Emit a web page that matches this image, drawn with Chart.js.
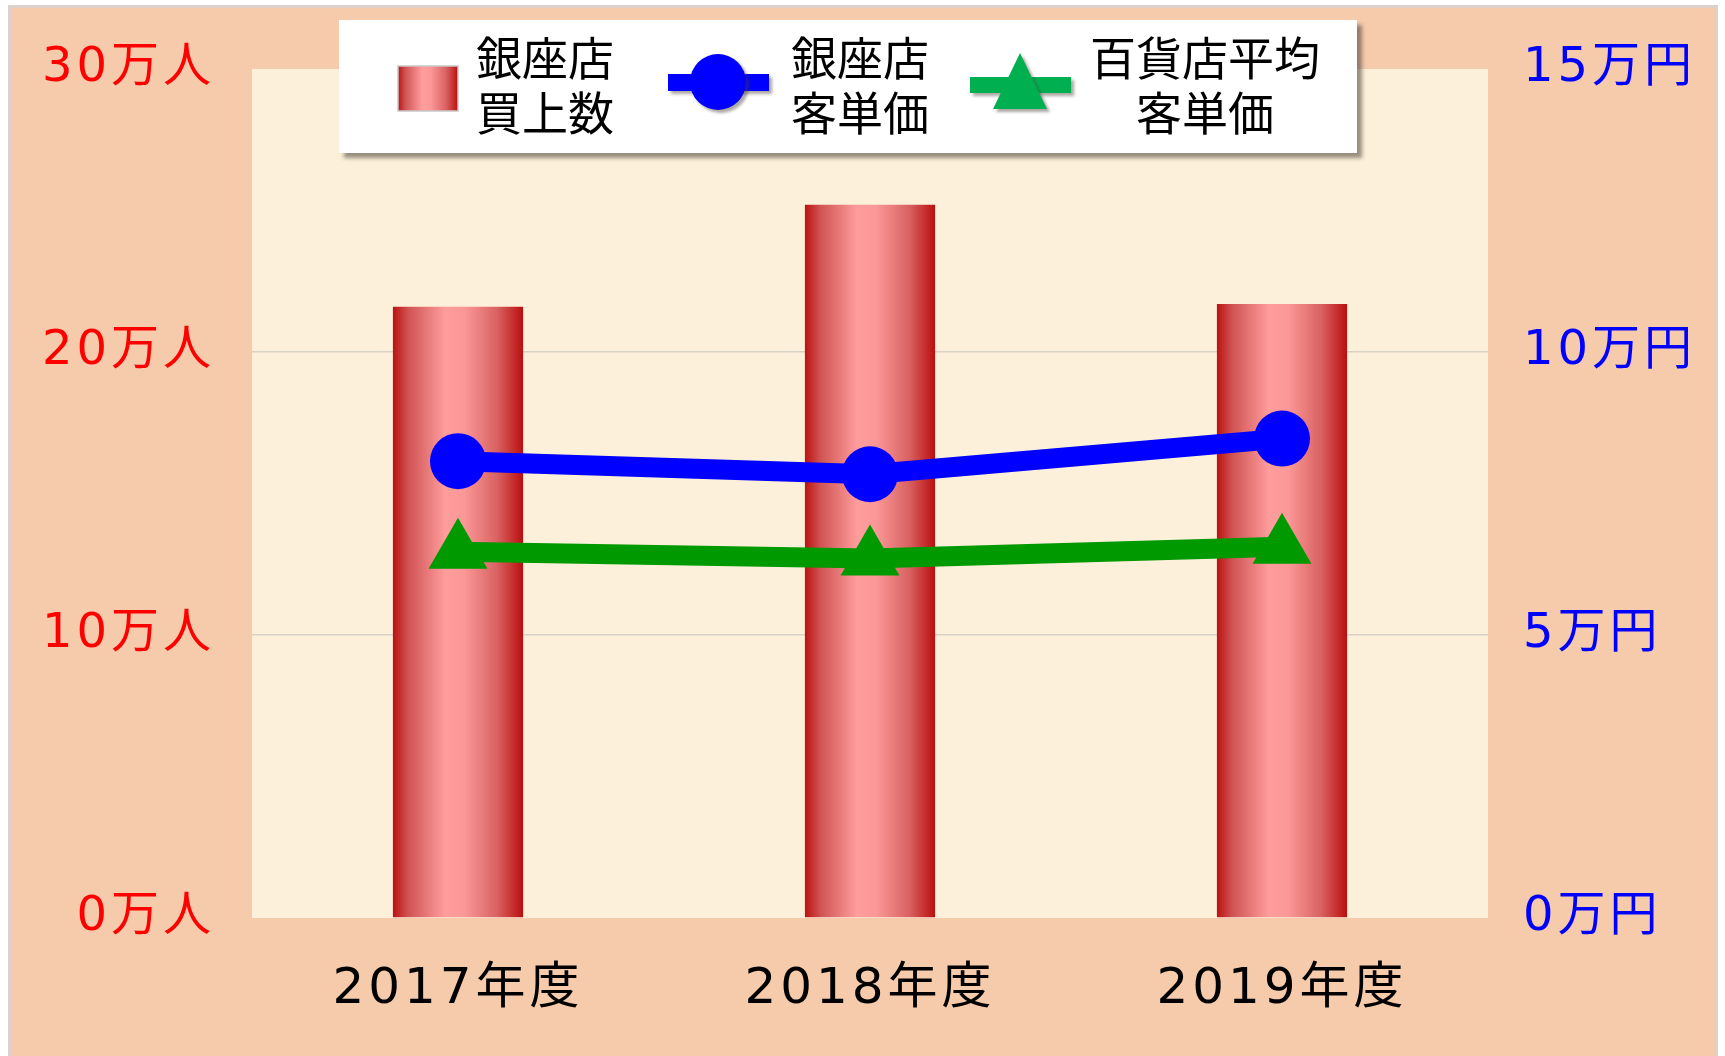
<!DOCTYPE html>
<html lang="ja">
<head>
<meta charset="utf-8">
<script src="https://cdn.jsdelivr.net/npm/chart.js@4/dist/chart.umd.min.js"></script>
<style>
  html, body { margin: 0; padding: 0; background: #fff; }
</style>
</head>
<body>
<canvas id="chart" width="1725" height="1056"></canvas>
<script>
// data (万人 / 万円)
const years = ['2017年度', '2018年度', '2019年度'];
const ginzaCustomers = [21.6, 25.2, 21.7];
const ginzaSpend = [8.07, 7.84, 8.47];
const deptAvgSpend = [6.47, 6.35, 6.56];
const leftTicks = [0, 10, 20, 30];
const rightTicks = [0, 5, 10, 15];
const legendLabels = [['銀座店', '買上数'], ['銀座店', '客単価'], ['百貨店平均', '客単価']];

const tickFont = "'DejaVu Sans', 'Noto Sans CJK JP', sans-serif";
const jpFont = "'Noto Sans CJK JP', sans-serif";
const barPct = 0.316;

function barGradient(ctx, x0, x1) {
    const g = ctx.createLinearGradient(x0, 0, x1, 0);
    g.addColorStop(0, '#BC1212');
    g.addColorStop(0.12, '#D05454');
    g.addColorStop(0.4, '#FF9C9C');
    g.addColorStop(0.55, '#FB9797');
    g.addColorStop(0.8, '#D96262');
    g.addColorStop(1, '#BA0F0F');
    return g;
}

// peach frame + cream plot area; wider spacing for the axis labels
const backdrop = {
    id: 'backdrop',
    beforeDraw(chart) {
        const ctx = chart.ctx;
        const a = chart.chartArea;
        ctx.save();
        ctx.fillStyle = '#fff';
        ctx.fillRect(0, 0, chart.width, chart.height);
        ctx.fillStyle = '#DCD2CB';
        ctx.fillRect(8, 5, 1710, chart.height);
        ctx.fillStyle = '#F6CBAC';
        ctx.fillRect(11, 8, 1704, chart.height);
        ctx.fillStyle = '#FCF0DA';
        ctx.fillRect(a.left, a.top, a.right - a.left, a.bottom - a.top);
        ctx.restore();
        ctx.letterSpacing = '4px';
    },
    beforeDatasetsDraw(chart) {
        chart.ctx.letterSpacing = '0px';
    }
};

// boxed legend with two-line labels
const boxLegend = {
    id: 'boxLegend',
    afterDraw(chart) {
        const ctx = chart.ctx;
        const ds = chart.data.datasets;
        ctx.letterSpacing = '0px';
        ctx.save();
        ctx.shadowColor = 'rgba(70,60,50,0.55)';
        ctx.shadowOffsetX = 5;
        ctx.shadowOffsetY = 5;
        ctx.shadowBlur = 4;
        ctx.fillStyle = '#fff';
        ctx.fillRect(339, 20, 1018, 133);
        ctx.restore();

        ctx.save();
        // bar symbol
        ctx.fillStyle = barGradient(ctx, 398, 458);
        ctx.fillRect(398, 66, 60, 45);
        ctx.strokeStyle = '#C8C8C8';
        ctx.lineWidth = 1.5;
        ctx.strokeRect(398, 66, 60, 45);

        ctx.shadowColor = 'rgba(70,60,50,0.45)';
        ctx.shadowOffsetX = 3;
        ctx.shadowOffsetY = 3;
        ctx.shadowBlur = 3;
        // blue line + circle
        ctx.fillStyle = ds[1].borderColor;
        ctx.fillRect(668, 74, 101, 17);
        ctx.beginPath();
        ctx.arc(718, 82, 28, 0, Math.PI * 2);
        ctx.fill();
        // green line + triangle
        ctx.fillStyle = '#00B050';
        ctx.fillRect(970, 77, 101, 16);
        ctx.beginPath();
        ctx.moveTo(1020, 53);
        ctx.lineTo(1047, 109);
        ctx.lineTo(993, 109);
        ctx.closePath();
        ctx.fill();
        ctx.restore();

        ctx.save();
        ctx.fillStyle = '#000';
        ctx.font = '46px ' + jpFont;
        ctx.textAlign = 'center';
        ctx.textBaseline = 'middle';
        const cx = [545, 860, 1205];
        legendLabels.forEach((lines, i) => {
            ctx.fillText(lines[0], cx[i], 58);
            ctx.fillText(lines[1], cx[i], 113);
        });
        ctx.restore();
    }
};

new Chart(document.getElementById('chart').getContext('2d'), {
    type: 'bar',
    data: {
        labels: years,
        datasets: [
            {
                label: legendLabels[0].join(''),
                data: ginzaCustomers,
                yAxisID: 'y',
                order: 10,
                borderWidth: 0,
                categoryPercentage: 1,
                barPercentage: barPct,
                backgroundColor: function(c) {
                    const xs = c.chart.scales.x;
                    if (!xs || c.dataIndex === undefined) return '#E06060';
                    const cx = xs.getPixelForValue(c.dataIndex);
                    const half = xs.width / years.length * barPct / 2;
                    if (!isFinite(cx) || !isFinite(half)) return '#E06060';
                    return barGradient(c.chart.ctx, cx - half, cx + half);
                }
            },
            {
                type: 'line',
                label: legendLabels[1].join(''),
                data: ginzaSpend,
                yAxisID: 'y1',
                order: 1,
                borderColor: '#0000FF',
                backgroundColor: '#0000FF',
                borderWidth: 20,
                pointStyle: 'circle',
                pointRadius: 28,
                pointHoverRadius: 28,
                pointBorderWidth: 0,
                pointBackgroundColor: '#0000FF',
                tension: 0,
                fill: false
            },
            {
                type: 'line',
                label: legendLabels[2].join(''),
                data: deptAvgSpend,
                yAxisID: 'y1',
                order: 2,
                borderColor: '#009900',
                backgroundColor: '#009900',
                borderWidth: 20,
                pointStyle: 'triangle',
                pointRadius: 34,
                pointHoverRadius: 34,
                pointBorderWidth: 0,
                pointBackgroundColor: '#009900',
                tension: 0,
                fill: false
            }
        ]
    },
    options: {
        responsive: false,
        animation: false,
        events: [],
        layout: { padding: { left: 10, top: 69, right: 0, bottom: 0 } },
        plugins: {
            legend: { display: false },
            tooltip: { enabled: false }
        },
        scales: {
            x: {
                grid: { display: false },
                border: { display: false },
                ticks: { color: '#000', font: { family: tickFont, size: 50 }, padding: 34 },
                afterFit: s => { s.height = 1056 - 918; }
            },
            y: {
                position: 'left',
                min: 0,
                max: 30,
                afterBuildTicks: s => { s.ticks = leftTicks.map(v => ({ value: v })); },
                ticks: {
                    color: '#FF0000',
                    font: { family: tickFont, size: 48 },
                    padding: 37,
                    callback: v => v + '万人'
                },
                grid: {
                    drawTicks: false,
                    lineWidth: 1.5,
                    color: c => (c.tick && (c.tick.value === 10 || c.tick.value === 20)) ? '#D8D1C6' : 'rgba(0,0,0,0)'
                },
                border: { display: false },
                afterFit: s => { s.width = 252 - 10; }
            },
            y1: {
                position: 'right',
                min: 0,
                max: 15,
                afterBuildTicks: s => { s.ticks = rightTicks.map(v => ({ value: v })); },
                ticks: {
                    color: '#0000FF',
                    font: { family: tickFont, size: 48 },
                    padding: 35,
                    callback: v => v + '万円'
                },
                grid: { display: false, drawTicks: false },
                border: { display: false },
                afterFit: s => { s.width = 1725 - 1488; }
            }
        }
    },
    plugins: [backdrop, boxLegend]
});
</script>
</body>
</html>
